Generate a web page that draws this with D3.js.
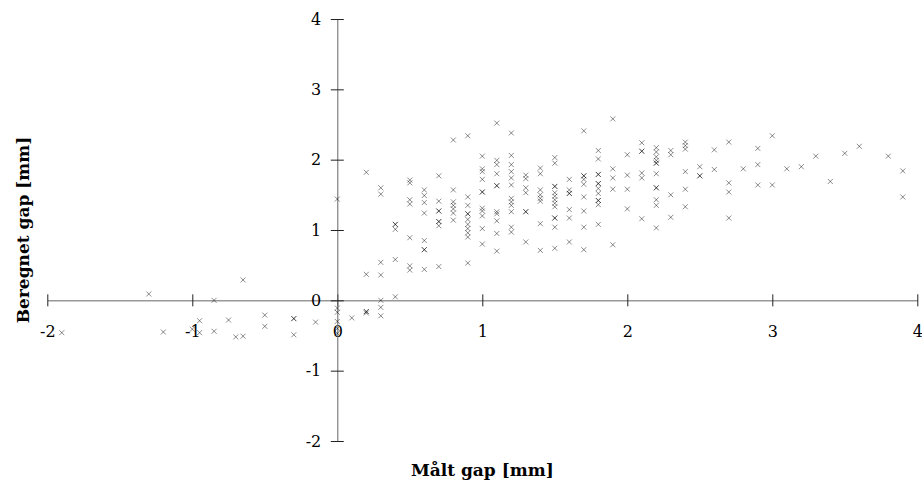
<!DOCTYPE html>
<html>
<head>
<meta charset="utf-8">
<script src="https://cdn.jsdelivr.net/npm/d3@7"></script>
<style>
	html, body { margin: 0; padding: 0; background: #fff; }
	svg { display: block; }
	text { font-family: "DejaVu Serif", "Liberation Serif", serif; fill: #000; }
</style>
</head>
<body>
<div id="chart"></div>
<script>
/* målt gap < 0.2 (spredte punkter) */
var negMaalt    = [-1.90, -1.30, -1.20, -1.00, -0.95, -0.95, -0.85, -0.85, -0.75, -0.70, -0.65, -0.65, -0.50, -0.50, -0.30, -0.30, -0.30, -0.15, 0, 0, 0, 0, 0, 0, 0.10];
var negBeregnet = [-0.46, 0.09, -0.45, -0.41, -0.29, -0.46, 0.00, -0.44, -0.28, -0.52, -0.51, 0.29, -0.21, -0.37, -0.26, -0.26, -0.49, -0.31, 1.44, -0.11, -0.17, -0.30, -0.40, -0.47, -0.25];

/* målt gap i søjler */
var colMaalt = [0.2, 0.3, 0.4, 0.5, 0.6, 0.7, 0.8, 0.9, 1.0, 1.1, 1.2, 1.3, 1.4, 1.5, 1.6, 1.7, 1.8, 1.9, 2.0,
	2.1, 2.2, 2.3, 2.4, 2.5, 2.6, 2.7, 2.8, 2.9, 3.0, 3.1, 3.2, 3.3, 3.4, 3.5, 3.6, 3.8, 3.9];
var colBeregnet = [
	[1.82, 0.37, -0.16, -0.16, -0.18],
	[1.60, 1.51, 0.54, 0.36, 0.00, -0.10, -0.22],
	[1.08, 1.08, 1.01, 0.58, 0.05],
	[1.71, 1.67, 1.43, 1.37, 0.89, 0.49, 0.43],
	[1.57, 1.49, 1.39, 1.24, 0.85, 0.72, 0.72, 0.44],
	[1.77, 1.41, 1.27, 1.27, 1.12, 1.12, 1.06, 0.48],
	[2.28, 1.57, 1.40, 1.35, 1.30, 1.24, 1.14],
	[2.34, 1.47, 1.35, 1.23, 1.23, 1.15, 1.08, 1.02, 0.96, 0.90, 0.53],
	[2.05, 1.87, 1.83, 1.72, 1.54, 1.54, 1.31, 1.27, 1.20, 1.02, 0.80],
	[2.52, 1.99, 1.93, 1.80, 1.63, 1.63, 1.26, 1.23, 1.13, 0.95, 0.70],
	[2.38, 2.06, 1.93, 1.83, 1.74, 1.64, 1.45, 1.40, 1.35, 1.26, 1.04, 0.97],
	[1.78, 1.73, 1.60, 1.53, 1.26, 1.26, 0.83],
	[1.88, 1.80, 1.57, 1.50, 1.45, 1.41, 1.09, 0.71],
	[2.03, 1.95, 1.62, 1.62, 1.53, 1.48, 1.43, 1.38, 1.33, 1.17, 1.17, 1.04, 0.74],
	[1.72, 1.57, 1.52, 1.52, 1.29, 1.17, 0.83],
	[2.41, 1.77, 1.77, 1.72, 1.65, 1.47, 1.27, 1.04, 0.72],
	[2.13, 2.01, 1.79, 1.79, 1.66, 1.66, 1.59, 1.52, 1.42, 1.42, 1.36, 1.08],
	[2.58, 1.87, 1.74, 1.58, 0.79],
	[2.07, 1.78, 1.58, 1.30],
	[2.24, 2.12, 2.12, 1.81, 1.74, 1.16],
	[2.17, 2.11, 2.04, 1.99, 1.95, 1.95, 1.80, 1.60, 1.60, 1.43, 1.35, 1.03],
	[2.13, 2.07, 1.50, 1.18],
	[2.25, 2.20, 2.15, 1.83, 1.58, 1.33],
	[1.90, 1.77, 1.77],
	[2.14, 1.86],
	[2.25, 1.67, 1.54, 1.17],
	[1.87],
	[2.16, 1.93, 1.64],
	[2.34, 1.64],
	[1.87],
	[1.90],
	[2.05],
	[1.69],
	[2.09],
	[2.19],
	[2.05],
	[1.84, 1.47]
];

var xTicks = [-2, -1, 0, 1, 2, 3, 4];
var yTicks = [-2, -1, 0, 1, 2, 3, 4];
var xTitle = "Målt gap [mm]";
var yTitle = "Beregnet gap [mm]";

window.onload = function () {
	var width = 922, height = 483;

	var points = [];
	for (var i = 0; i < negMaalt.length; i++) {
		points.push({ x: negMaalt[i], y: negBeregnet[i] });
	}
	for (var c = 0; c < colMaalt.length; c++) {
		for (var j = 0; j < colBeregnet[c].length; j++) {
			points.push({ x: colMaalt[c], y: colBeregnet[c][j] });
		}
	}

	var x = d3.scaleLinear().domain([-2, 4]).range([47.3, 917.3]);
	var y = d3.scaleLinear().domain([-2, 4]).range([441, 19]);

	var svg = d3.select("#chart")
		.append("svg")
		.attr("width", width)
		.attr("height", height);

	// x-akse gennem y = 0
	var gx = svg.append("g")
		.attr("transform", "translate(0," + y(0) + ")")
		.call(d3.axisBottom(x).tickValues(xTicks).tickFormat(d3.format("d")).tickSizeOuter(0));
	gx.select(".domain").attr("stroke", "#666");
	gx.selectAll(".tick line").attr("y1", -6).attr("y2", 6).attr("stroke", "#222");
	gx.selectAll(".tick text")
		.attr("y", 37).attr("dy", 0)
		.attr("font-size", 16)
		.attr("font-family", "DejaVu Serif")
		.text(function (d) { return d < 0 ? "-" + Math.abs(d) : d; });

	// y-akse gennem x = 0
	var gy = svg.append("g")
		.attr("transform", "translate(" + x(0) + ",0)")
		.call(d3.axisLeft(y).tickValues(yTicks).tickFormat(d3.format("d")).tickSizeOuter(0));
	gy.select(".domain").attr("stroke", "#666");
	gy.selectAll(".tick line").attr("x1", -6.5).attr("x2", 6.5).attr("stroke", "#222");
	gy.selectAll(".tick text")
		.attr("x", -16)
		.attr("font-size", 16)
		.attr("font-family", "DejaVu Serif")
		.text(function (d) { return d < 0 ? "-" + Math.abs(d) : d; });

	// punkter som små krydser
	var s = 2.5;
	svg.append("g")
		.selectAll("path")
		.data(points)
		.enter()
		.append("path")
		.attr("d", function (d) {
			var px = x(d.x), py = y(d.y);
			return "M" + (px - s) + "," + (py - s) + "L" + (px + s) + "," + (py + s) +
				"M" + (px - s) + "," + (py + s) + "L" + (px + s) + "," + (py - s);
		})
		.attr("stroke", "#000")
		.attr("stroke-opacity", 0.5)
		.attr("stroke-width", 0.9)
		.attr("fill", "none");

	// akse titler
	svg.append("text")
		.attr("x", (x(-2) + x(4)) / 2)
		.attr("y", 476)
		.attr("text-anchor", "middle")
		.attr("font-size", 17)
		.attr("font-weight", "bold")
		.text(xTitle);

	svg.append("text")
		.attr("transform", "translate(29," + ((y(-2) + y(4)) / 2) + ") rotate(-90)")
		.attr("text-anchor", "middle")
		.attr("font-size", 17)
		.attr("font-weight", "bold")
		.text(yTitle);
};
</script>
</body>
</html>
